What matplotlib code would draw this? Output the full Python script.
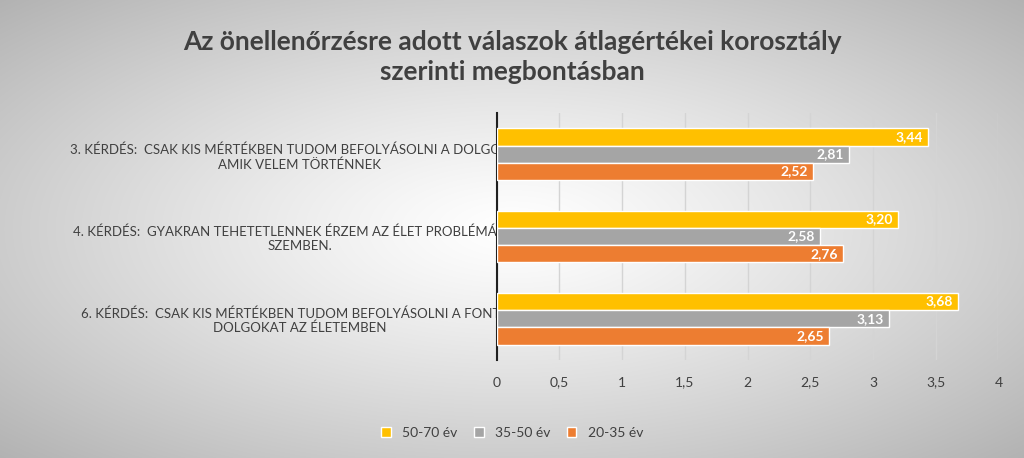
import numpy as np
import matplotlib
matplotlib.use("Agg")
import matplotlib.pyplot as plt

plt.rcParams["font.family"] = "Lato"

categories = ["3. KÉRDÉS:  CSAK KIS MÉRTÉKBEN TUDOM BEFOLYÁSOLNI A DOLGOKAT,\nAMIK VELEM TÖRTÉNNEK",
              "4. KÉRDÉS:  GYAKRAN TEHETETLENNEK ÉRZEM AZ ÉLET PROBLÉMÁIVAL\nSZEMBEN.",
              "6. KÉRDÉS:  CSAK KIS MÉRTÉKBEN TUDOM BEFOLYÁSOLNI A FONTOS\nDOLGOKAT AZ ÉLETEMBEN"]
series_names = ["50-70 év", "35-50 év", "20-35 év"]
v_50_70 = [3.44, 3.20, 3.68]
v_35_50 = [2.81, 2.58, 3.13]
v_20_35 = [2.52, 2.76, 2.65]
colors = ["#FFC000", "#A5A5A5", "#ED7D31"]
xticks = [0, 0.5, 1, 1.5, 2, 2.5, 3, 3.5, 4]
xticklabels = ["0", "0,5", "1", "1,5", "2", "2,5", "3", "3,5", "4"]

fig = plt.figure(figsize=(10.24, 4.58), dpi=100)
bg = fig.add_axes([0, 0, 1, 1], zorder=-10)
yy, xx = np.mgrid[-1:1:458j, -1:1:1024j]
r = np.sqrt(xx**2 + yy**2) / np.sqrt(2)
g = 1.0 - 0.3 * r**1.2
bg.imshow(np.dstack([g, g, g]), aspect="auto", extent=[0, 1, 0, 1])
bg.axis("off")

ax = fig.add_axes([0.485, 0.214, 0.49, 0.539])
ax.patch.set_alpha(0)
h = 0.21
ys = np.arange(len(categories))
for i, (vals, c) in enumerate(zip([v_50_70, v_35_50, v_20_35], colors)):
    pos = ys + (i - 1) * h
    ax.barh(pos, vals, height=h, color=c, edgecolor="white", linewidth=1, label=series_names[i], zorder=3)
    for p, v in zip(pos, vals):
        ax.text(v - 0.04, p, f"{v:.2f}".replace(".", ","), ha="right", va="center",
                color="white", fontsize=10, fontweight="bold", zorder=4)
ax.set_xlim(0, 4)
ax.set_ylim(len(categories) - 0.5, -0.5)
ax.set_yticks(ys)
ax.set_yticklabels(categories, fontsize=9.5, color="#404040", ha="center")
ax.tick_params(axis="y", length=0, pad=142)
ax.set_xticks(xticks)
ax.set_xticklabels(xticklabels, fontsize=10, color="#404040")
ax.tick_params(axis="x", length=0, pad=12)
ax.grid(axis="x", color="#d4d4d4", linewidth=1, zorder=0)
for s in ["top", "right", "bottom"]:
    ax.spines[s].set_visible(False)
ax.spines["left"].set_color("#202020")
ax.spines["left"].set_linewidth(1.5)

fig.text(0.5, 0.875, "Az önellenőrzésre adott válaszok átlagértékei korosztály\nszerinti megbontásban",
         ha="center", va="center", fontsize=19, fontweight="bold", color="#404040", linespacing=1.3)
fig.legend(loc="center", bbox_to_anchor=(0.5, 0.055), ncol=3, frameon=False, fontsize=10,
           handlelength=0.7, handleheight=0.7, columnspacing=1.2, labelcolor="#404040")
fig.savefig("out.png", dpi=100)
